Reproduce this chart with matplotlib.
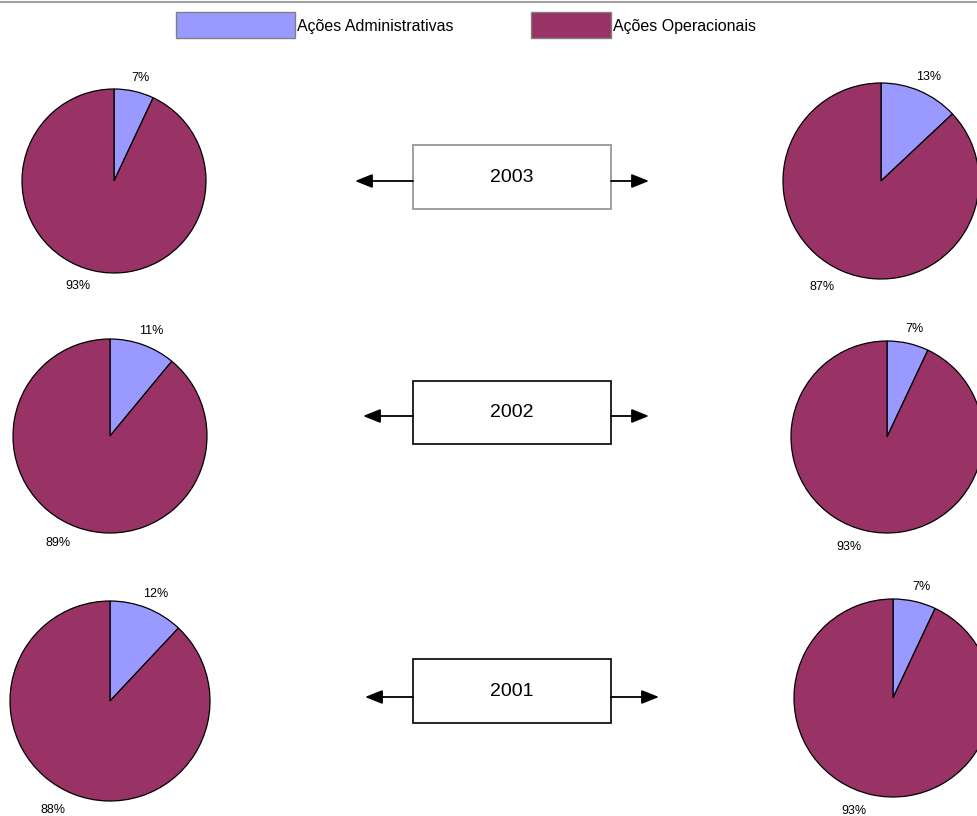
import matplotlib
matplotlib.use("Agg")
import matplotlib.pyplot as plt
from matplotlib.patches import Rectangle

plt.rcParams['font.family'] = ['Liberation Sans', 'DejaVu Sans']

categories = ["Ações Administrativas", "Ações Operacionais"]
colors = ["#9999FF", "#993366"]
years = ["2003", "2002", "2001"]
left_admin = [7, 11, 12]
left_oper = [93, 89, 88]
right_admin = [13, 7, 7]
right_oper = [87, 93, 93]

W, H = 978, 816
fig = plt.figure(figsize=(W / 100, H / 100), dpi=100)
ax = fig.add_axes([0, 0, 1, 1])
ax.set_xlim(0, W)
ax.set_ylim(0, H)
ax.set_aspect('equal')
ax.axis('off')

def Y(py):
    return H - py

# top grey rule
ax.plot([0, W], [Y(2), Y(2)], color="#a0a0a0", lw=1.5)

# legend
leg_boxes = [(176, 12, 119, 26), (531, 12, 80, 26)]
for (x, y, w, h), c, name in zip(leg_boxes, colors, categories):
    ax.add_patch(Rectangle((x, Y(y + h)), w, h, facecolor=c, edgecolor="#808080", lw=1))
    ax.text(x + w + 2, Y(y + h / 2 + 2), name, fontsize=11.5, va='center', ha='left')

left_geo = [(114, 181, 92), (110, 436, 97), (110, 701, 100)]
right_geo = [(881, 181, 98), (887, 437, 96), (893, 698, 99)]

def draw_pie(vals, cx, cy, r):
    wedges, texts = ax.pie(vals, colors=colors, startangle=90, counterclock=False,
                           center=(cx, Y(cy)), radius=r,
                           labels=[f"{v}%" for v in vals], labeldistance=1.13,
                           wedgeprops=dict(edgecolor='black', linewidth=0.9),
                           textprops=dict(fontsize=9), frame=True)
    for t in texts:
        t.set_ha('center')
        t.set_va('center')
    # Excel-style label offsets
    x0, y0 = texts[1].get_position()
    texts[1].set_position((x0 - 0.15 * r, y0 - 0.04 * r))
    x1, y1 = texts[0].get_position()
    texts[0].set_position((x1 + 0.04 * r, y1 + 0.02 * r))

for i in range(3):
    draw_pie([left_admin[i], left_oper[i]], *left_geo[i])
    draw_pie([right_admin[i], right_oper[i]], *right_geo[i])

ax.set_xlim(0, W)
ax.set_ylim(0, H)
ax.axis('off')

boxes = [(413, 145, 198, 64, "#909090", 355, 649, 181),
         (413, 381, 198, 63, "black", 363, 649, 416),
         (413, 659, 198, 64, "black", 365, 659, 697)]
for yr, (x, y, w, h, ec, la, ra, ay) in zip(years, boxes):
    ax.add_patch(Rectangle((x, Y(y + h)), w, h, facecolor='white', edgecolor=ec, lw=1.2, zorder=3))
    ax.text(x + w / 2, Y(y + h / 2), yr, fontsize=14, ha='center', va='center', zorder=4,
            fontweight='medium')
    for tip, base in ((la, x), (ra, x + w)):
        ax.annotate("", xy=(tip, Y(ay)), xytext=(base, Y(ay)),
                    arrowprops=dict(arrowstyle='-|>,head_length=0.75,head_width=0.3',
                                    color='black', lw=1.3, mutation_scale=14,
                                    shrinkA=0, shrinkB=0))

fig.savefig("out.png", dpi=100, facecolor='white')
